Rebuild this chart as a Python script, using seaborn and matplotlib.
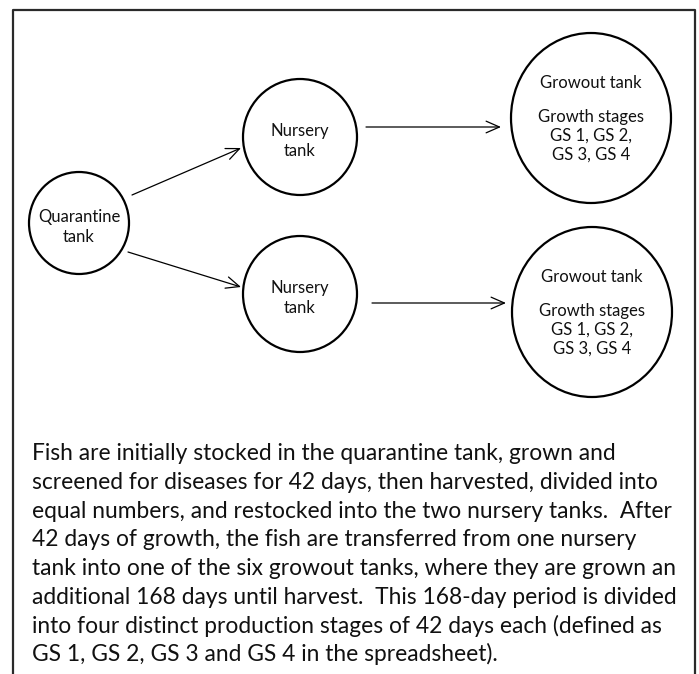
"""
Flow diagram of the fish tanks: quarantine -> nursery -> growout,
with the explanatory paragraph below.
"""
import matplotlib
matplotlib.use("Agg")
import matplotlib.pyplot as plt
import seaborn as sns
from matplotlib.patches import Ellipse

#--------------------------
# DATA (pixel units, y grows downward)
#--------------------------
node_names = ["quarantine", "nursery_1", "nursery_2", "growout_1", "growout_2"]
node_x = [79, 300, 300, 591, 592]
node_y = [223, 137, 294, 118, 312]
node_rx = [50, 57, 57, 80, 80]
node_ry = [51, 58, 58, 85, 85]
node_labels = ["Quarantine\ntank", "Nursery\ntank", "Nursery\ntank",
               "Growth stages\nGS 1, GS 2,\nGS 3, GS 4",
               "Growth stages\nGS 1, GS 2,\nGS 3, GS 4"]
node_titles = ["", "", "", "Growout tank", "Growout tank"]

# arrows: start and end points
arrow_x0 = [132, 128, 366, 372]
arrow_y0 = [195, 252, 127, 303]
arrow_x1 = [241, 241, 501, 506]
arrow_y1 = [148, 287, 127, 303]

# open box around the figure (no bottom edge)
frame_x = [12.5, 12.5, 695, 695]
frame_y = [674, 10, 10, 674]

paragraph = [
    "Fish are initially stocked in the quarantine tank, grown and",
    "screened for diseases for 42 days, then harvested, divided into",
    "equal numbers, and restocked into the two nursery tanks.  After",
    "42 days of growth, the fish are transferred from one nursery",
    "tank into one of the six growout tanks, where they are grown an",
    "additional 168 days until harvest.  This 168-day period is divided",
    "into four distinct production stages of 42 days each (defined as",
    "GS 1, GS 2, GS 3 and GS 4 in the spreadsheet).",
]
para_x = 32
para_y0 = 454
para_step = 28.6

#--------------------------
# PLOT
#--------------------------
sns.set_theme(style="white")
plt.rcParams['font.family'] = ['Lato', 'DejaVu Sans']

W, H = 699, 674
fig = plt.figure(figsize=(W / 100, H / 100), dpi=100)
ax = fig.add_axes([0, 0, 1, 1])
ax.set_xlim(0, W)
ax.set_ylim(H, 0)
ax.axis("off")

# frame, drawn as one unaggregated path
sns.lineplot(x=frame_x, y=frame_y, sort=False, estimator=None,
             color="#2a2a2a", lw=1.6, ax=ax)

for i in range(len(node_names)):
    ax.add_patch(Ellipse((node_x[i], node_y[i]), 2 * node_rx[i], 2 * node_ry[i],
                         facecolor="white", edgecolor="black", lw=1.6))
    if node_titles[i]:
        ax.text(node_x[i], node_y[i] - 35, node_titles[i], ha="center", va="center",
                fontsize=12, color="#111111")
        ax.text(node_x[i], node_y[i] + 18, node_labels[i], ha="center", va="center",
                fontsize=12, color="#111111", linespacing=1.2)
    else:
        ax.text(node_x[i], node_y[i] + 4, node_labels[i], ha="center", va="center",
                fontsize=12, color="#111111", linespacing=1.25)

for x0, y0, x1, y1 in zip(arrow_x0, arrow_y0, arrow_x1, arrow_y1):
    ax.annotate("", xy=(x1, y1), xytext=(x0, y0),
                arrowprops=dict(arrowstyle="->,head_length=0.8,head_width=0.35",
                                color="black", lw=0.9, shrinkA=0, shrinkB=0))

for k, line in enumerate(paragraph):
    ax.text(para_x, para_y0 + k * para_step, line, ha="left", va="center",
            fontsize=16.4, color="#111111")

plt.savefig("out.png", dpi=100)
